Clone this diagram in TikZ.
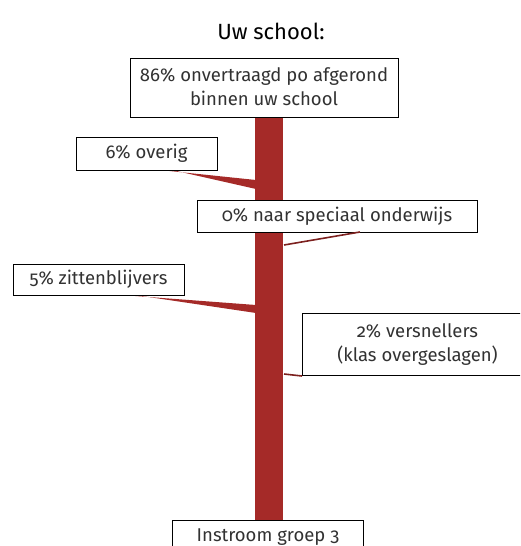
\documentclass[tikz,border=0pt]{standalone}
\usepackage{fontspec}
\setmainfont{Fira Sans}[Numbers=OldStyle]
\definecolor{trunkred}{RGB}{165,42,40}
\definecolor{boxtext}{RGB}{50,50,50}
\tikzset{
  lbox/.style={draw=black, line width=1pt, fill=white, inner sep=0pt, align=center,
    text=boxtext, font=\fontsize{18.5}{24}\selectfont},
  branch/.style={fill=trunkred, draw=none},
  thinbranch/.style={draw=trunkred!75!black, line width=1.6pt},
}
\begin{document}
\begin{tikzpicture}[x=1pt,y=-1pt]
\useasboundingbox (0,0) rectangle (520,546);
\clip (0,0) rectangle (520,546);
% title
\node[font=\fontsize{22}{26}\selectfont, text=black] (title) at (271,31) {Uw school:};
% trunk
\node[fill=trunkred, minimum width=28pt, minimum height=410pt, inner sep=0pt] (trunk) at (269,320) {};
% branches
\coordinate (b6a) at (160,170);
\coordinate (b6b) at (256,180);
\coordinate (b6c) at (256,189);
\coordinate (b5a) at (122,295);
\coordinate (b5b) at (256,305);
\coordinate (b5c) at (256,313);
\fill[branch] (b6a) -- (b6b) -- (b6c) -- (172,170) -- cycle;
\fill[branch] (b5a) -- (b5b) -- (b5c) -- (135,295) -- cycle;
% boxes
\node[lbox, minimum width=268pt, minimum height=59pt] (top) at (264,87.5)
  {\raisebox{2pt}{86\% onvertraagd po afgerond}\\\raisebox{2pt}{binnen uw school}};
\node[lbox, minimum width=141pt, minimum height=33pt] (overig) at (146.5,153.5) {6\% overig};
\node[lbox, minimum width=280pt, minimum height=32pt] (speciaal) at (337,216) {0\% naar speciaal onderwijs};
\node[lbox, minimum width=171pt, minimum height=31pt] (zitten) at (98.5,279.5) {5\% zittenblijvers};
\node[lbox, minimum width=230pt, minimum height=62pt, anchor=north west] (versn) at (302,313)
  {2\% versnellers\\(klas overgeslagen)};
\node[lbox, minimum width=191pt, minimum height=34pt, anchor=north west] (instroom) at (172,520)
  {Instroom groep 3};
% thin connectors
\coordinate (sp) at (360,232);
\coordinate (spt) at (284,245);
\draw[thinbranch] (sp) -- (spt);
\coordinate (vt) at (284,374);
\draw[thinbranch] (vt) -- (versn.south west);
\end{tikzpicture}
\end{document}
